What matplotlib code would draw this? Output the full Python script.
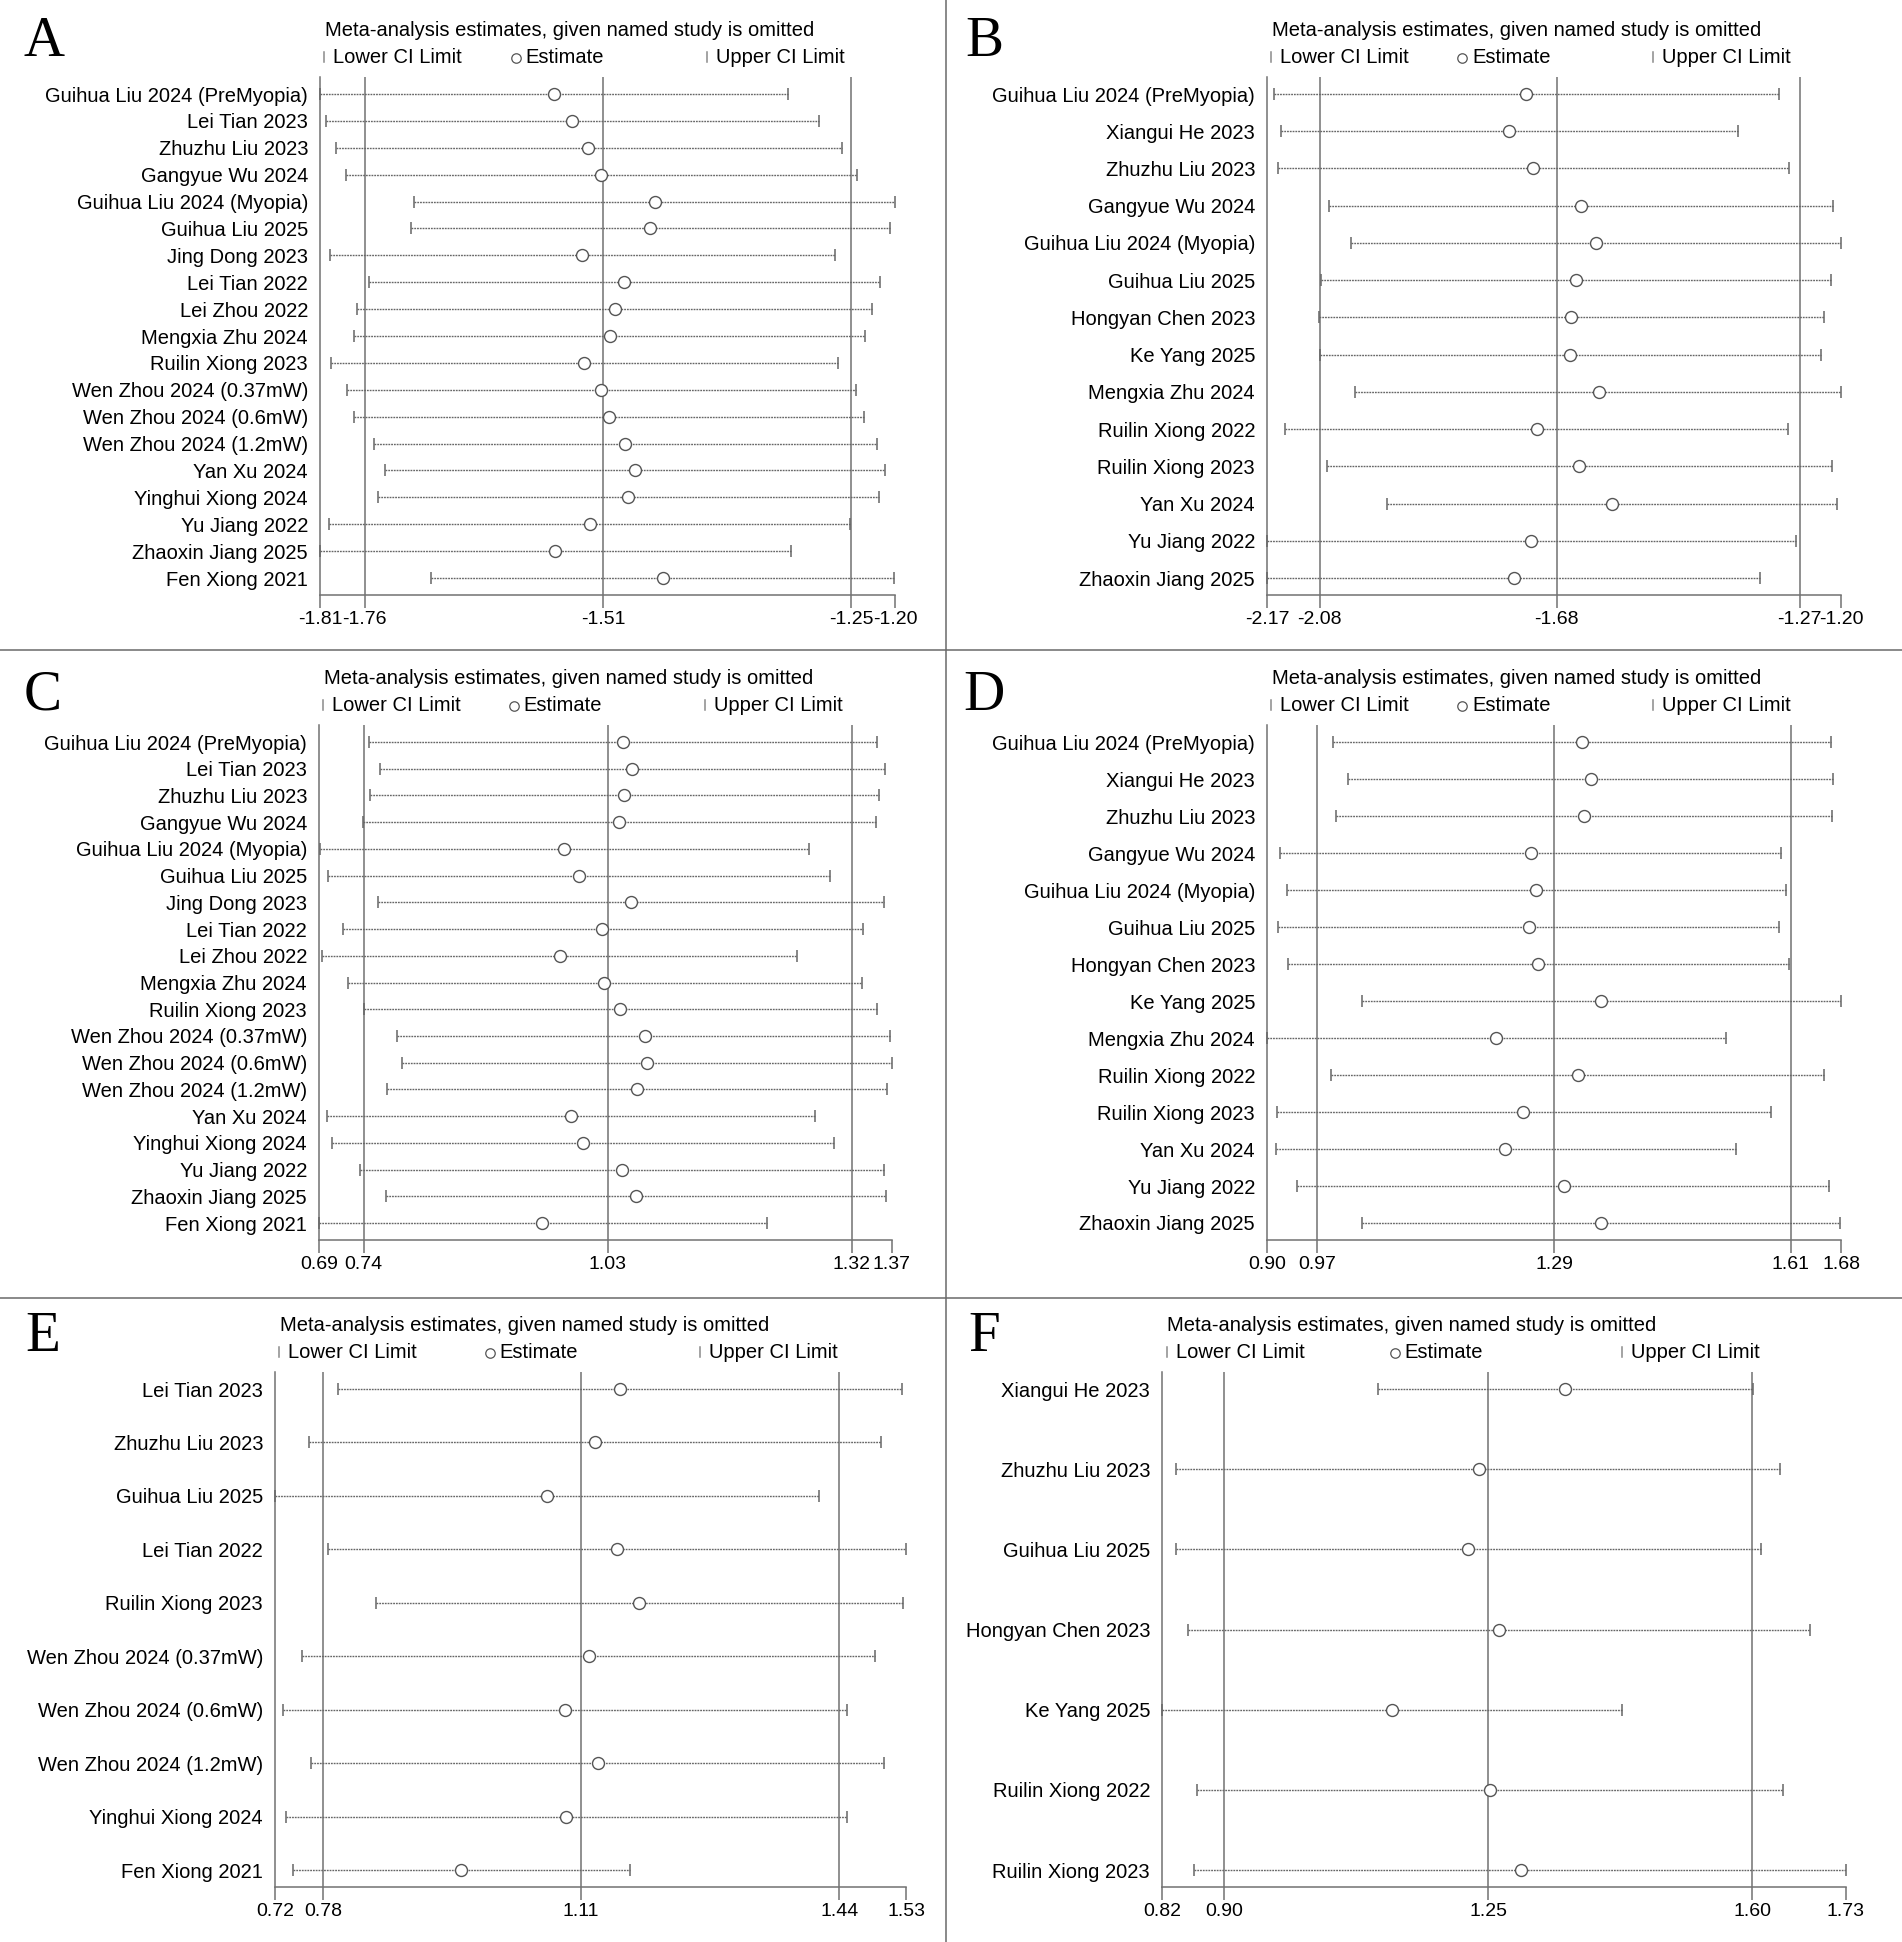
import numpy as np
import matplotlib
matplotlib.use("Agg")
import matplotlib.pyplot as plt
from matplotlib.lines import Line2D

plt.rcParams['font.family'] = ['Liberation Sans', 'DejaVu Sans']

# ---------------- data ----------------
studies_A = ["Guihua Liu 2024 (PreMyopia)", "Lei Tian 2023", "Zhuzhu Liu 2023", "Gangyue Wu 2024",
             "Guihua Liu 2024 (Myopia)", "Guihua Liu 2025", "Jing Dong 2023", "Lei Tian 2022",
             "Lei Zhou 2022", "Mengxia Zhu 2024", "Ruilin Xiong 2023", "Wen Zhou 2024 (0.37mW)",
             "Wen Zhou 2024 (0.6mW)", "Wen Zhou 2024 (1.2mW)", "Yan Xu 2024", "Yinghui Xiong 2024",
             "Yu Jiang 2022", "Zhaoxin Jiang 2025", "Fen Xiong 2021"]
est_A = [-1.562, -1.543, -1.526, -1.512, -1.456, -1.461, -1.532, -1.488, -1.498, -1.503,
         -1.530, -1.512, -1.504, -1.487, -1.477, -1.484, -1.524, -1.561, -1.447]
lo_A = [-1.807, -1.801, -1.790, -1.780, -1.708, -1.712, -1.796, -1.756, -1.768, -1.771,
        -1.795, -1.779, -1.771, -1.750, -1.739, -1.746, -1.798, -1.807, -1.691]
hi_A = [-1.316, -1.284, -1.260, -1.244, -1.204, -1.209, -1.267, -1.220, -1.228, -1.235,
        -1.264, -1.245, -1.237, -1.223, -1.214, -1.221, -1.251, -1.313, -1.205]
overall_A = [-1.76, -1.51, -1.25]
ticklab_A = ["-1.81", "-1.76", "-1.51", "-1.25", "-1.20"]

studies_B = ["Guihua Liu 2024 (PreMyopia)", "Xiangui He 2023", "Zhuzhu Liu 2023", "Gangyue Wu 2024",
             "Guihua Liu 2024 (Myopia)", "Guihua Liu 2025", "Hongyan Chen 2023", "Ke Yang 2025",
             "Mengxia Zhu 2024", "Ruilin Xiong 2022", "Ruilin Xiong 2023", "Yan Xu 2024",
             "Yu Jiang 2022", "Zhaoxin Jiang 2025"]
est_B = [-1.732, -1.760, -1.720, -1.639, -1.613, -1.647, -1.655, -1.657, -1.609, -1.714,
         -1.642, -1.586, -1.723, -1.752]
lo_B = [-2.157, -2.146, -2.151, -2.064, -2.028, -2.078, -2.082, -2.080, -2.020, -2.138,
        -2.067, -1.966, -2.169, -2.169]
hi_B = [-1.305, -1.374, -1.288, -1.214, -1.200, -1.217, -1.228, -1.233, -1.200, -1.289,
        -1.215, -1.206, -1.276, -1.336]
overall_B = [-2.08, -1.68, -1.27]
ticklab_B = ["-2.17", "-2.08", "-1.68", "-1.27", "-1.20"]

studies_C = list(studies_A)
est_C = [1.048, 1.059, 1.050, 1.044, 0.978, 0.996, 1.058, 1.023, 0.973, 1.026,
         1.045, 1.074, 1.077, 1.065, 0.986, 1.001, 1.047, 1.064, 0.952]
lo_C = [0.747, 0.759, 0.748, 0.739, 0.688, 0.698, 0.757, 0.715, 0.690, 0.721,
        0.740, 0.780, 0.786, 0.768, 0.697, 0.703, 0.736, 0.767, 0.687]
hi_C = [1.350, 1.360, 1.352, 1.349, 1.269, 1.294, 1.359, 1.333, 1.255, 1.332,
        1.350, 1.366, 1.368, 1.362, 1.277, 1.299, 1.358, 1.361, 1.219]
overall_C = [0.74, 1.03, 1.32]
ticklab_C = ["0.69", "0.74", "1.03", "1.32", "1.37"]

studies_D = list(studies_B)
est_D = [1.328, 1.340, 1.330, 1.259, 1.265, 1.256, 1.269, 1.353, 1.212, 1.323,
         1.248, 1.224, 1.303, 1.353]
lo_D = [0.991, 1.012, 0.995, 0.920, 0.929, 0.917, 0.930, 1.031, 0.902, 0.989,
        0.915, 0.914, 0.943, 1.030]
hi_D = [1.664, 1.667, 1.666, 1.597, 1.603, 1.594, 1.608, 1.678, 1.522, 1.655,
        1.583, 1.536, 1.662, 1.676]
overall_D = [0.97, 1.29, 1.61]
ticklab_D = ["0.90", "0.97", "1.29", "1.61", "1.68"]

studies_E = ["Lei Tian 2023", "Zhuzhu Liu 2023", "Guihua Liu 2025", "Lei Tian 2022", "Ruilin Xiong 2023",
             "Wen Zhou 2024 (0.37mW)", "Wen Zhou 2024 (0.6mW)", "Wen Zhou 2024 (1.2mW)",
             "Yinghui Xiong 2024", "Fen Xiong 2021"]
est_E = [1.160, 1.128, 1.066, 1.156, 1.184, 1.120, 1.089, 1.131, 1.091, 0.957]
lo_E = [0.800, 0.763, 0.719, 0.787, 0.848, 0.754, 0.729, 0.765, 0.733, 0.742]
hi_E = [1.520, 1.493, 1.414, 1.525, 1.521, 1.486, 1.450, 1.497, 1.450, 1.173]
overall_E = [0.78, 1.11, 1.44]
ticklab_E = ["0.72", "0.78", "1.11", "1.44", "1.53"]

studies_F = ["Xiangui He 2023", "Zhuzhu Liu 2023", "Guihua Liu 2025", "Hongyan Chen 2023",
             "Ke Yang 2025", "Ruilin Xiong 2022", "Ruilin Xiong 2023"]
est_F = [1.352, 1.238, 1.223, 1.264, 1.123, 1.252, 1.293]
lo_F = [1.104, 0.837, 0.836, 0.852, 0.818, 0.865, 0.861]
hi_F = [1.601, 1.637, 1.611, 1.676, 1.427, 1.641, 1.724]
overall_F = [0.90, 1.25, 1.60]
ticklab_F = ["0.82", "0.90", "1.25", "1.60", "1.73"]

# ---------------- layout ----------------
W, H = 1902, 1942
fig = plt.figure(figsize=(W / 100, H / 100), dpi=100)
fig.patch.set_facecolor('white')

LINE = '#727272'
BAR = '#666666'
CIRC = '#555555'
TITLE = "Meta-analysis estimates, given named study is omitted"

panels = [
    ("A", studies_A, est_A, lo_A, hi_A, overall_A, ticklab_A, (320, 895, 77, 595), (23, 56)),
    ("B", studies_B, est_B, lo_B, hi_B, overall_B, ticklab_B, (1267, 1841, 77, 595), (965, 56)),
    ("C", studies_C, est_C, lo_C, hi_C, overall_C, ticklab_C, (319, 892, 725, 1240), (24, 710)),
    ("D", studies_D, est_D, lo_D, hi_D, overall_D, ticklab_D, (1267, 1841, 725, 1240), (963, 710)),
    ("E", studies_E, est_E, lo_E, hi_E, overall_E, ticklab_E, (275, 906, 1372, 1887), (25, 1351)),
    ("F", studies_F, est_F, lo_F, hi_F, overall_F, ticklab_F, (1162, 1846, 1372, 1887), (968, 1351)),
]


def fx(x):
    return x / W


def fy(y):
    return 1 - y / H


for letter, studies, est, lo, hi, overall, ticklab, (l, r, t, b), (lx, ly) in panels:
    ax = fig.add_axes([fx(l), fy(b), (r - l) / W, (b - t) / H])
    n = len(studies)
    y = np.arange(n)
    pad_px = 17
    sp = ((b - t) - 2 * pad_px) / (n - 1)
    pad = pad_px / sp
    xmin, xmax = min(lo), max(hi)
    ax.set_xlim(xmin, xmax)
    ax.set_ylim(n - 1 + pad, -pad)

    for v in overall:
        ax.axvline(v, color=LINE, lw=1.1, zorder=1)
    ax.hlines(y, lo, hi, colors=BAR, linestyles=(0, (1.3, 0.7)), lw=1.0, zorder=2)
    ax.plot(lo, y, '|', color=BAR, ms=8, mew=1.1, zorder=3, clip_on=False)
    ax.plot(hi, y, '|', color=BAR, ms=8, mew=1.1, zorder=3, clip_on=False)
    ax.plot(est, y, 'o', mfc='white', mec=CIRC, ms=8.6, mew=1.0, zorder=4, clip_on=False)

    ax.set_xticks([xmin] + overall + [xmax])
    ax.set_xticklabels(ticklab)
    ax.set_yticks(y)
    ax.set_yticklabels(studies)
    ax.tick_params(axis='y', length=0, pad=8.6, labelsize=14.5, labelcolor='black')
    ax.tick_params(axis='x', length=9, width=1.1, pad=2.5, color=LINE, labelsize=14, labelcolor='black')
    for s in ['top', 'right']:
        ax.spines[s].set_visible(False)
    for s in ['left', 'bottom']:
        ax.spines[s].set_color(LINE)
        ax.spines[s].set_linewidth(1.1)

    w = r - l
    # title and legend row
    fig.text(fx(l + 5), fy(t - 41), TITLE, fontsize=14.5, va='baseline', ha='left', color='black')
    ly_leg = t - 14
    xb1 = l + 0.007 * w
    xc = l + 0.34 * w
    xb2 = l + 0.673 * w
    for xb in (xb1, xb2):
        fig.add_artist(Line2D([fx(xb), fx(xb)], [fy(ly_leg - 1), fy(ly_leg - 11)], lw=1.1, color='#8a8a8a',
                              transform=fig.transFigure))
    fig.text(fx(xb1 + 9), fy(ly_leg), "Lower CI Limit", fontsize=14.5, va='baseline', ha='left')
    fig.add_artist(Line2D([fx(xc)], [fy(ly_leg - 5)], marker='o', ms=6.8, mew=0.9, mfc='white', mec=CIRC,
                          transform=fig.transFigure, ls='none'))
    fig.text(fx(xc + 10), fy(ly_leg), "Estimate", fontsize=14.5, va='baseline', ha='left')
    fig.text(fx(xb2 + 9), fy(ly_leg), "Upper CI Limit", fontsize=14.5, va='baseline', ha='left')

    # panel letter
    fig.text(fx(lx), fy(ly), letter, fontsize=41, family=['Liberation Serif', 'DejaVu Serif'],
             va='baseline', ha='left', color='black')

# dividers
DIV = '#6a6a6a'
fig.add_artist(Line2D([fx(946), fx(946)], [0, 1], color=DIV, lw=1.1, transform=fig.transFigure))
fig.add_artist(Line2D([0, 1], [fy(650), fy(650)], color=DIV, lw=1.1, transform=fig.transFigure))
fig.add_artist(Line2D([0, 1], [fy(1298), fy(1298)], color=DIV, lw=1.1, transform=fig.transFigure))

fig.savefig("out.png", dpi=100, facecolor='white')
